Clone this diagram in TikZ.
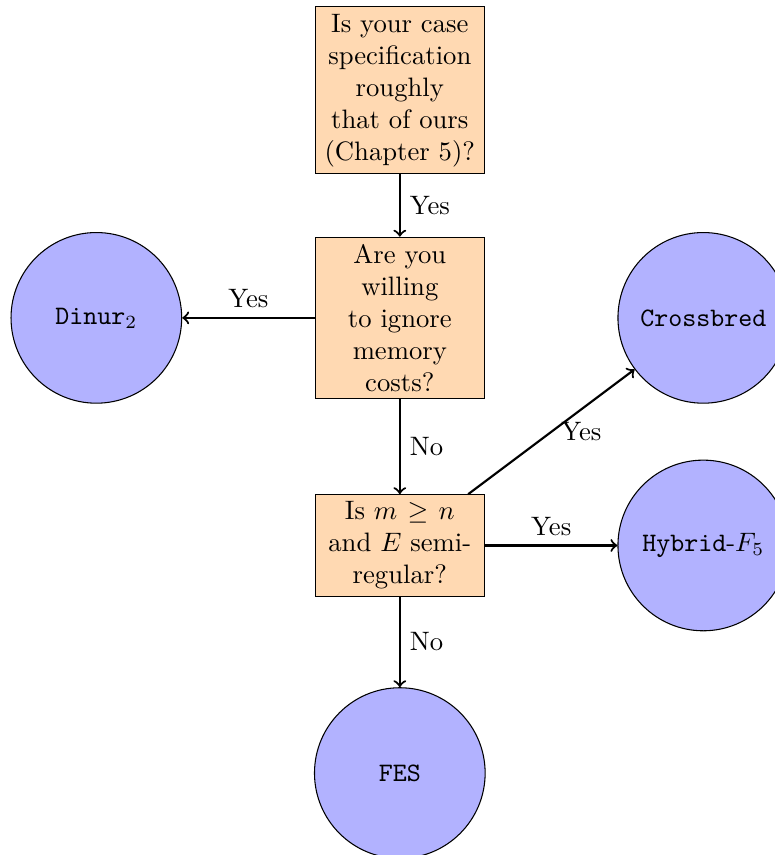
\documentclass[tikz,border=0pt]{standalone}
\usetikzlibrary{positioning}
\tikzset{
  qbox/.style={draw, fill=orange!30, text width=2cm, align=center, inner ysep=2.6pt},
  answer/.style={draw, circle, fill=blue!30, minimum size=64pt, inner sep=0pt},
  arr/.style={->, thick},
}
\begin{document}
\begin{tikzpicture}
\useasboundingbox (-5.27,-7.08) rectangle (4.94,4.19);
\node[qbox] (q1) at (0,3) {Is your case specification roughly that of ours (Chapter 5)?};
\node[qbox] (q2) at (0,0) {Are you willing to ignore memory costs?};
\node[qbox] (q3) at (0,-3) {Is $m \geq n$ and $E$ semi-regular?};
\node[answer] (dinur) at (-4,0) {\texttt{Dinur}$_2$};
\node[answer] (cross) at (4,0) {\texttt{Crossbred}};
\node[answer] (hybrid) at (4,-3) {\texttt{Hybrid}-$F_5$};
\node[answer] (fes) at (0,-6) {\texttt{FES}};
\draw[arr] (q1) -- node[midway, right] {Yes} (q2);
\draw[arr] (q2) -- node[midway, above] {Yes} (dinur);
\draw[arr] (q2) -- node[midway, right] {No} (q3);
\draw[arr] (q3) -- node[midway, right] {Yes} (cross);
\draw[arr] (q3) -- node[midway, above] {Yes} (hybrid);
\draw[arr] (q3) -- node[midway, right] {No} (fes);
\end{tikzpicture}
\end{document}
